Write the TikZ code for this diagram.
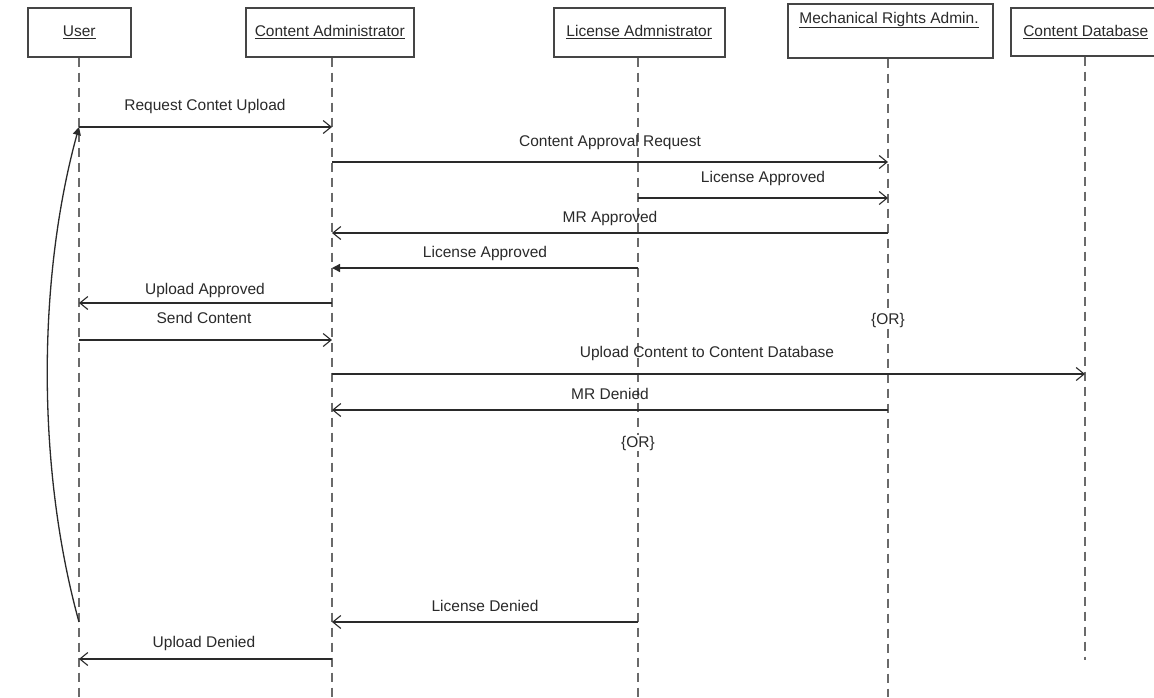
\documentclass[tikz,border=0pt]{standalone}
\usepackage{fontspec}
\setmainfont{Liberation Sans}
\usetikzlibrary{arrows.meta}
\definecolor{ink}{HTML}{2A2A2A}
\definecolor{boxline}{HTML}{454545}
\definecolor{life}{HTML}{6A6A6A}
\begin{document}
\begin{tikzpicture}[x=1pt,y=-1pt,
  font=\fontsize{15.5}{18}\selectfont,
  head/.style={draw=boxline, line width=1.5pt, text=ink, inner sep=0pt, anchor=north west, minimum height=49pt},
  headtext/.style={text=ink, inner sep=0pt},
  lifeline/.style={draw=life, line width=1.3pt, dash pattern=on 9pt off 6pt},
  msg/.style={draw=ink, line width=1.3pt, -{Straight Barb[length=8pt,width=13pt,line width=1.1pt]}},
  msgfill/.style={draw=ink, line width=1.3pt, -{Triangle[length=8pt,width=8pt]}},
  lbl/.style={text=ink, inner sep=1pt},
  ornode/.style={text=ink, fill=white, inner sep=1pt}
]
\useasboundingbox (0,0) rectangle (1154,697);
\fill[white] (0,0) rectangle (1154,697);

% lifeline x positions
\coordinate (U) at (79,0);
\coordinate (C) at (332,0);
\coordinate (L) at (638,0);
\coordinate (M) at (888,0);
\coordinate (D) at (1085,0);

% heads
\node[head, minimum width=103pt] (user) at (27,7) {\underline{User}};
\node[head, minimum width=168pt] (ca) at (245,7) {\underline{Content Administrator}};
\node[head, minimum width=171pt] (la) at (553,7) {\underline{License Admnistrator}};
\node[head, minimum width=205pt, minimum height=54pt] (mr) at (787,3) {};
\node[headtext] (mrt) at (889,20) {\underline{Mechanical Rights Admin.}};
\node[head, minimum width=150pt, minimum height=48pt] (cd) at (1010,7) {\underline{Content Database}};

% lifelines
\draw[lifeline] (user.south -| U) -- (U |- 0,697);
\draw[lifeline] (ca.south -| C) -- (C |- 0,697);
\draw[lifeline] (la.south -| L) -- (L |- 0,697);
\draw[lifeline] (mr.south -| M) -- (M |- 0,697);
\draw[lifeline] (cd.south -| D) -- (D |- 0,660);

% OR markers
\node[ornode] (or1) at (888,320) {\{OR\}};
\node[ornode] (or2) at (638,443) {\{OR\}};

% messages
\draw[msg] (U |- 0,127) -- (C |- 0,127);
\node[lbl] (t1) at (205,106) {Request Contet Upload};

\draw[msg] (C |- 0,162) -- (M |- 0,162);
\node[lbl] (t2) at (610,142) {Content Approval Request};

\draw[msg] (L |- 0,198) -- (M |- 0,198);
\node[lbl] (t3) at (763,178) {License Approved};

\draw[msg] (M |- 0,233) -- (C |- 0,233);
\node[lbl] (t4) at (610,218) {MR Approved};

\draw[msgfill] (L |- 0,268) -- (C |- 0,268);
\node[lbl] (t5) at (485,253) {License Approved};

\draw[msg] (C |- 0,303) -- (U |- 0,303);
\node[lbl] (t6) at (205,290) {Upload Approved};

\draw[msg] (U |- 0,340) -- (C |- 0,340);
\node[lbl] (t7) at (204,318) {Send Content};

\draw[msg] (C |- 0,374) -- (D |- 0,374);
\node[lbl] (t8) at (707,353) {Upload Content to Content Database};

\draw[msg] (M |- 0,410) -- (C |- 0,410);
\node[lbl] (t9) at (610,394) {MR Denied};

\draw[msg] (L |- 0,622) -- (C |- 0,622);
\node[lbl] (t10) at (485,606) {License Denied};

\draw[msg] (C |- 0,659) -- (U |- 0,659);
\node[lbl] (t11) at (204,643) {Upload Denied};

% return curve
\draw[msgfill] (U |- 0,622) .. controls (37,470) and (37,280) .. (U |- 0,127);
\end{tikzpicture}
\end{document}
